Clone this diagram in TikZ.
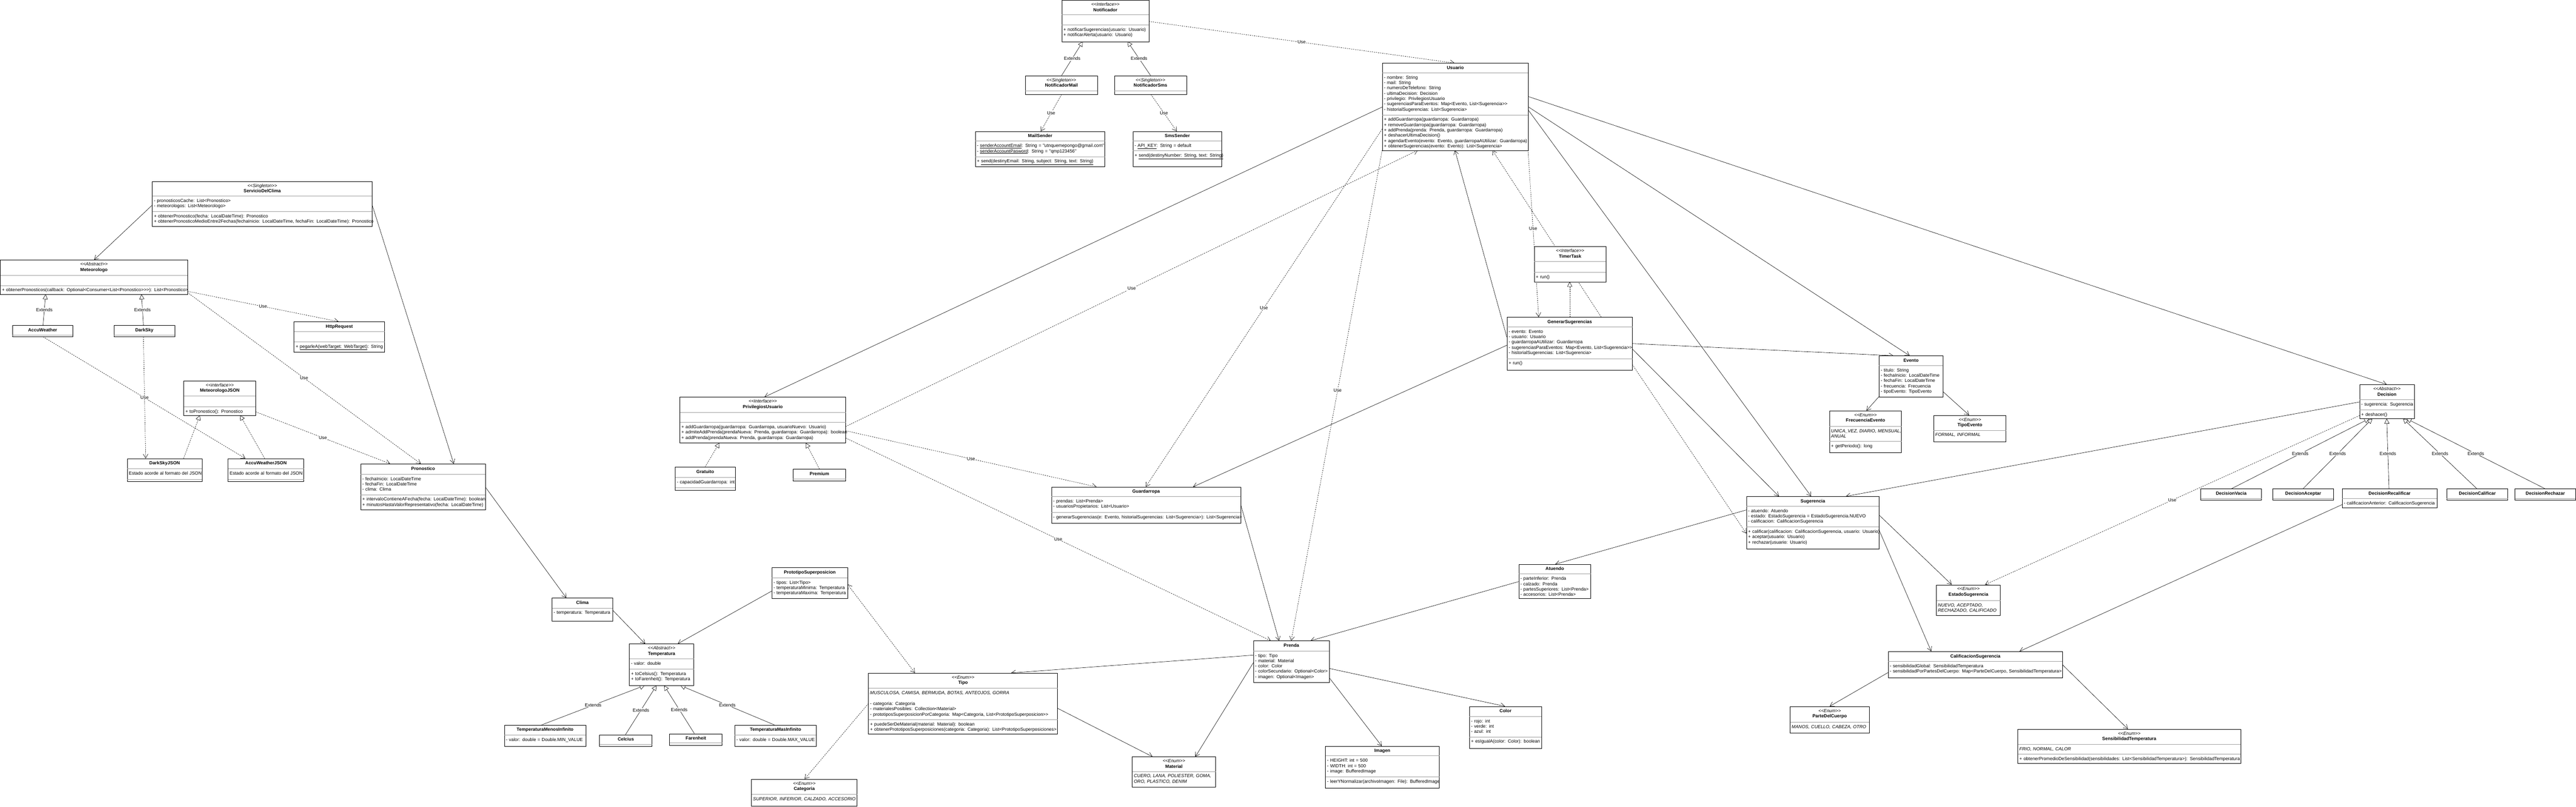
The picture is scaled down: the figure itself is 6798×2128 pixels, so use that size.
\documentclass[tikz,border=0pt]{standalone}
\usepackage{fontspec}
\newfontfamily\umlfont{Liberation Sans}
\usetikzlibrary{arrows.meta,fit,backgrounds}
\newcommand{\umlsize}{\fontsize{12}{14}\umlfont}
\newcommand{\ubox}[5]{\node[classbox, fit={(#2,#3) (#4,#5)}] (#1) {};}
\newcommand{\usep}[3]{\draw[sepline] (#1,#3) -- (#2,#3);}
\newcommand{\utitle}[2]{\node[titletext] at ([yshift=-16.5pt]#1.north) {#2};}
\newcommand{\ustereo}[3]{%
	\node[stereotext] at ([yshift=-15.5pt]#1.north) {<{}<#2>{}>};
	\node[titletext] at ([yshift=-30pt]#1.north) {#3};}
\tikzset{
	classbox/.style={draw, fill=white, line width=1.1pt, inner sep=0pt},
	sepline/.style={gray!75, line width=0.7pt},
	titletext/.style={anchor=base, inner sep=0pt, font=\umlsize\bfseries},
	stereotext/.style={anchor=base, inner sep=0pt, font=\umlsize\itshape},
	members/.style={anchor=north west, text width=700pt, align=left, inner xsep=4pt, inner ysep=6.5pt, font=\umlsize, execute at begin node=\strut},
	literals/.style={members, font=\umlsize\itshape},
	assoc/.style={line width=0.8pt, ->},
	usedep/.style={assoc, dash pattern=on 3pt off 2.5pt},
	extends/.style={line width=0.8pt, -{Triangle[open, length=13pt, width=13pt, fill=white]}},
	realizes/.style={extends, dash pattern=on 3pt off 2.5pt},
	lbl/.style={fill=white, inner sep=1pt, font=\umlsize}
}
\begin{document}
\begin{tikzpicture}[x=1pt, y=-1pt, >={Straight Barb[length=11pt, width=13pt]}]
	\useasboundingbox (0,0) rectangle (6798,2128);
	%-- notificaciones
	\ubox{notificador}{2802}{1}{3032}{110}
	\ustereo{notificador}{Interface}{Notificador}
	\usep{2802}{3032}{39} \usep{2802}{3032}{66}
	\node[members] at (2802,66) {+ notificarSugerencias(usuario: Usuario)\\+ notificarAlerta(usuario: Usuario)};
	\ubox{notifMail}{2706}{200}{2896}{250}
	\ustereo{notifMail}{Singleton}{NotificadorMail}
	\usep{2706}{2896}{239}
	\ubox{notifSms}{2941}{200}{3131}{250}
	\ustereo{notifSms}{Singleton}{NotificadorSms}
	\usep{2941}{3131}{239}
	\ubox{mailSender}{2574}{347}{2916}{440}
	\utitle{mailSender}{MailSender}
	\usep{2574}{2916}{372} \usep{2574}{2916}{413}
	\node[members] at (2574,372) {- \underline{senderAccountEmail}: String = "utnquemepongo@gmail.com"\\- \underline{senderAccountPasword}: String = "qmp123456"};
	\node[members] at (2574,413) {+ \underline{send(destinyEmail: String, subject: String, text: String)}};
	\ubox{smsSender}{2990}{347}{3224}{440}
	\utitle{smsSender}{SmsSender}
	\usep{2990}{3224}{372} \usep{2990}{3224}{398}
	\node[members] at (2990,372) {- \underline{API\_KEY}: String = default};
	\node[members] at (2990,398) {+ \underline{send(destinyNumber: String, text: String)}};
	%-- usuario
	\ubox{usuario}{3648}{167}{4033}{397}
	\utitle{usuario}{Usuario}
	\usep{3648}{4033}{192} \usep{3648}{4033}{303}
	\node[members] at (3648,192) {- nombre: String\\- mail: String\\- numeroDeTelefono: String\\- ultimaDecision: Decision\\- privilegio: PrivilegiosUsuario\\- sugerenciasParaEventos: Map<Evento, List<Sugerencia>{}>\\- historialSugerencias: List<Sugerencia>};
	\node[members] at (3648,303) {+ addGuardarropa(guardarropa: Guardarropa)\\+ removeGuardarropa(guardarropa: Guardarropa)\\+ addPrenda(prenda: Prenda, guardarropa: Guardarropa)\\+ deshacerUltimaDecision()\\+ agendarEvento(evento: Evento, guardarropaAUtilizar: Guardarropa)\\+ obtenerSugerencias(evento: Evento): List<Sugerencia>};
	\ubox{privilegios}{1794}{1048}{2232}{1169}
	\ustereo{privilegios}{Interface}{PrivilegiosUsuario}
	\usep{1794}{2232}{1088} \usep{1794}{2232}{1114}
	\node[members] at (1794,1114) {+ addGuardarropa(guardarropa: Guardarropa, usuarioNuevo: Usuario)\\+ admiteAddPrenda(prendaNueva: Prenda, guardarropa: Guardarropa): boolean\\+ addPrenda(prendaNueva: Prenda, guardarropa: Guardarropa)};
	\ubox{gratuito}{1782}{1233}{1940}{1294}
	\utitle{gratuito}{Gratuito}
	\usep{1782}{1940}{1259} \usep{1782}{1940}{1286}
	\node[members] at (1782,1259) {- capacidadGuardarropa: int};
	\ubox{premium}{2093}{1238}{2232}{1269}
	\utitle{premium}{Premium}
	\usep{2093}{2232}{1263}
	\ubox{guardarropa}{2775}{1285}{3274}{1380}
	\utitle{guardarropa}{Guardarropa}
	\usep{2775}{3274}{1310} \usep{2775}{3274}{1352}
	\node[members] at (2775,1310) {- prendas: List<Prenda>\\- usuariosPropietarios: List<Usuario>};
	\node[members] at (2775,1352) {- generarSugerencias(e: Evento, historialSugerencias: List<Sugerencia>): List<Sugerencia>};
	\ubox{timerTask}{4049}{651}{4238}{744}
	\ustereo{timerTask}{Interface}{TimerTask}
	\usep{4049}{4238}{690} \usep{4049}{4238}{718}
	\node[members] at (4049,718) {+ run()};
	\ubox{generar}{3977}{837}{4308}{977}
	\utitle{generar}{GenerarSugerencias}
	\usep{3977}{4308}{862} \usep{3977}{4308}{946}
	\node[members] at (3977,862) {- evento: Evento\\- usuario: Usuario\\- guardarropaAUtilizar: Guardarropa\\- sugerenciasParaEventos: Map<Evento, List<Sugerencia>{}>\\- historialSugerencias: List<Sugerencia>};
	\node[members] at (3977,946) {+ run()};
	%-- eventos y decisiones
	\ubox{evento}{4959}{939}{5127}{1048}
	\utitle{evento}{Evento}
	\usep{4959}{5127}{964}
	\node[members] at (4959,964) {- titulo: String\\- fechaInicio: LocalDateTime\\- fechaFin: LocalDateTime\\- frecuencia: Frecuencia\\- tipoEvento: TipoEvento};
	\ubox{frecuencia}{4828}{1084}{5018}{1194}
	\ustereo{frecuencia}{Enum}{FrecuenciaEvento}
	\usep{4828}{5018}{1125} \usep{4828}{5018}{1164}
	\node[literals] at (4828,1125) {UNICA\_VEZ, DIARIO, MENSUAL,\\ANUAL};
	\node[members] at (4828,1164) {+ getPeriodo(): long};
	\ubox{tipoEvento}{5103}{1096}{5294}{1166}
	\ustereo{tipoEvento}{Enum}{TipoEvento}
	\usep{5103}{5294}{1135}
	\node[literals] at (5103,1135) {FORMAL, INFORMAL};
	\ubox{decision}{6227}{1015}{6371}{1105}
	\ustereo{decision}{Abstract}{Decision}
	\usep{6227}{6371}{1054} \usep{6227}{6371}{1081}
	\node[members] at (6227,1054) {- sugerencia: Sugerencia};
	\node[members] at (6227,1081) {+ deshacer()};
	\ubox{decVacia}{5808}{1290}{5968}{1320}
	\utitle{decVacia}{DecisionVacia}
	\usep{5808}{5968}{1315}
	\ubox{decAceptar}{5998}{1290}{6158}{1320}
	\utitle{decAceptar}{DecisionAceptar}
	\usep{5998}{6158}{1315}
	\ubox{decRecalificar}{6181}{1290}{6431}{1340}
	\utitle{decRecalificar}{DecisionRecalificar}
	\usep{6181}{6431}{1315}
	\node[members] at (6181,1315) {- calificacionAnterior: CalificacionSugerencia};
	\ubox{decCalificar}{6457}{1290}{6618}{1320}
	\utitle{decCalificar}{DecisionCalificar}
	\usep{6457}{6618}{1315}
	\ubox{decRechazar}{6637}{1290}{6797}{1320}
	\utitle{decRechazar}{DecisionRechazar}
	\usep{6637}{6797}{1315}
	%-- sugerencias
	\ubox{sugerencia}{4609}{1310}{4959}{1449}
	\utitle{sugerencia}{Sugerencia}
	\usep{4609}{4959}{1335} \usep{4609}{4959}{1390}
	\node[members] at (4609,1335) {- atuendo: Atuendo\\- estado: EstadoSugerencia = EstadoSugerencia.NUEVO\\- calificacion: CalificacionSugerencia};
	\node[members] at (4609,1390) {+ calificar(calificacion: CalificacionSugerencia, usuario: Usuario)\\+ aceptar(usuario: Usuario)\\+ rechazar(usuario: Usuario)};
	\ubox{atuendo}{4008}{1489}{4198}{1579}
	\utitle{atuendo}{Atuendo}
	\usep{4008}{4198}{1514}
	\node[members] at (4008,1514) {- parteInferior: Prenda\\- calzado: Prenda\\- partesSuperiores: List<Prenda>\\- accesorios: List<Prenda>};
	\ubox{estadoSug}{5110}{1543}{5279}{1624}
	\ustereo{estadoSug}{Enum}{EstadoSugerencia}
	\usep{5110}{5279}{1584}
	\node[literals] at (5110,1584) {NUEVO, ACEPTADO,\\RECHAZADO, CALIFICADO};
	\ubox{calificacion}{4983}{1719}{5443}{1789}
	\utitle{calificacion}{CalificacionSugerencia}
	\usep{4983}{5443}{1745}
	\node[members] at (4983,1745) {- sensibilidadGlobal: SensibilidadTemperatura\\- sensibilidadPorPartesDelCuerpo: Map<ParteDelCuerpo, SensibilidadTemperatura>};
	\ubox{parteCuerpo}{4724}{1864}{4933}{1934}
	\ustereo{parteCuerpo}{Enum}{ParteDelCuerpo}
	\usep{4724}{4933}{1905}
	\node[literals] at (4724,1905) {MANOS, CUELLO, CABEZA, OTRO};
	\ubox{sensibilidad}{5325}{1924}{5913}{2014}
	\ustereo{sensibilidad}{Enum}{SensibilidadTemperatura}
	\usep{5325}{5913}{1964} \usep{5325}{5913}{1990}
	\node[literals] at (5325,1964) {FRIO, NORMAL, CALOR};
	\node[members] at (5325,1990) {+ obtenerPromedioDeSensibilidad(sensibilidades: List<SensibilidadTemperatura>): SensibilidadTemperatura};
	%-- prendas
	\ubox{prenda}{3308}{1691}{3508}{1801}
	\utitle{prenda}{Prenda}
	\usep{3308}{3508}{1717}
	\node[members] at (3308,1717) {- tipo: Tipo\\- material: Material\\- color: Color\\- colorSecundario: Optional<Color>\\- imagen: Optional<Imagen>};
	\ubox{color}{3878}{1864}{4068}{1974}
	\utitle{color}{Color}
	\usep{3878}{4068}{1890} \usep{3878}{4068}{1944}
	\node[members] at (3878,1890) {- rojo: int\\- verde: int\\- azul: int};
	\node[members] at (3878,1944) {+ esIgualA(color: Color): boolean};
	\ubox{imagen}{3498}{1969}{3798}{2079}
	\utitle{imagen}{Imagen}
	\usep{3498}{3798}{1994} \usep{3498}{3798}{2049}
	\node[members] at (3498,1994) {- HEIGHT: int = 500\\- WIDTH: int = 500\\- image: BufferedImage};
	\node[members] at (3498,2049) {- leerYNormalizar(archivoImagen: File): BufferedImage};
	\ubox{tipo}{2292}{1776}{2791}{1936}
	\ustereo{tipo}{Enum}{Tipo}
	\usep{2292}{2791}{1816} \usep{2292}{2791}{1898}
	\node[literals] at (2292,1816) {MUSCULOSA, CAMISA, BERMUDA, BOTAS, ANTEOJOS, GORRA};
	\node[members] at (2292,1844) {- categoria: Categoria\\- materialesPosibles: Collection<Material>\\- prototiposSuperposicionPorCategoria: Map<Categoria, List<PrototipoSuperposicion>{}>};
	\node[members] at (2292,1898) {+ puedeSerDeMaterial(material: Material): boolean\\+ obtenerPrototiposSuperposiciones(categoria: Categoria): List<PrototipoSuperposiciones>};
	\ubox{categoria}{1983}{2056}{2262}{2127}
	\ustereo{categoria}{Enum}{Categoria}
	\usep{1983}{2262}{2095}
	\node[literals] at (1983,2095) {SUPERIOR, INFERIOR, CALZADO, ACCESORIO};
	\ubox{material}{2988}{1997}{3208}{2076}
	\ustereo{material}{Enum}{Material}
	\usep{2988}{3208}{2035}
	\node[literals] at (2988,2035) {CUERO, LANA, POLIESTER, GOMA,\\ORO, PLASTICO, DENIM};
	\ubox{prototipo}{2037}{1498}{2237}{1579}
	\utitle{prototipo}{PrototipoSuperposicion}
	\usep{2037}{2237}{1524}
	\node[members] at (2037,1524) {- tipos: List<Tipo>\\- temperaturaMinima: Temperatura\\- temperaturaMaxima: Temperatura};
	%-- clima
	\ubox{servicioClima}{402}{479}{982}{598}
	\ustereo{servicioClima}{Singleton}{ServicioDelClima}
	\usep{402}{982}{517} \usep{402}{982}{558}
	\node[members] at (402,517) {- pronosticosCache: List<Pronostico>\\- meteorologos: List<Meteorologo>};
	\node[members] at (402,558) {+ obtenerPronostico(fecha: LocalDateTime): Pronostico\\+ obtenerPronosticoMedioEntre2Fechas(fechaInicio: LocalDateTime, fechaFin: LocalDateTime): Pronostico};
	\ubox{meteorologo}{1}{686}{495}{777}
	\ustereo{meteorologo}{Abstract}{Meteorologo}
	\usep{1}{495}{726} \usep{1}{495}{753}
	\node[members] at (1,753) {+ obtenerPronosticos(callback: Optional<Consumer<List<Pronostico>{}>{}>): List<Pronostico>};
	\ubox{accuWeather}{33}{859}{192}{889}
	\utitle{accuWeather}{AccuWeather}
	\usep{33}{192}{884}
	\ubox{darkSky}{301}{859}{461}{889}
	\utitle{darkSky}{DarkSky}
	\usep{301}{461}{884}
	\ubox{httpRequest}{776}{849}{1015}{929}
	\utitle{httpRequest}{HttpRequest}
	\usep{776}{1015}{874} \usep{776}{1015}{902}
	\node[members] at (776,902) {+ \underline{pegarleA(webTarget: WebTarget)}: String};
	\ubox{meteoJSON}{485}{1005}{675}{1096}
	\ustereo{meteoJSON}{interface}{MeteorologoJSON}
	\usep{485}{675}{1045} \usep{485}{675}{1073}
	\node[members] at (485,1073) {+ toPronostico(): Pronostico};
	\ubox{darkSkyJSON}{336}{1210}{533}{1271}
	\utitle{darkSkyJSON}{DarkSkyJSON}
	\usep{336}{533}{1236} \usep{336}{533}{1265}
	\node[members] at (336,1236) {Estado acorde al formato del JSON};
	\ubox{accuJSON}{602}{1210}{802}{1271}
	\utitle{accuJSON}{AccuWeatherJSON}
	\usep{602}{802}{1236} \usep{602}{802}{1265}
	\node[members] at (602,1236) {Estado acorde al formato del JSON};
	\ubox{pronostico}{952}{1224}{1281}{1345}
	\utitle{pronostico}{Pronostico}
	\usep{952}{1281}{1251} \usep{952}{1281}{1305}
	\node[members] at (952,1251) {- fechaInicio: LocalDateTime\\- fechaFin: LocalDateTime\\- clima: Clima};
	\node[members] at (952,1305) {+ intervaloContieneAFecha(fecha: LocalDateTime): boolean\\+ minutosHastaValorRepresentativo(fecha: LocalDateTime)};
	\ubox{clima}{1457}{1578}{1617}{1639}
	\utitle{clima}{Clima}
	\usep{1457}{1617}{1604}
	\node[members] at (1457,1604) {- temperatura: Temperatura};
	\ubox{temperatura}{1661}{1699}{1831}{1809}
	\ustereo{temperatura}{Abstract}{Temperatura}
	\usep{1661}{1831}{1738} \usep{1661}{1831}{1765}
	\node[members] at (1661,1738) {- valor: double};
	\node[members] at (1661,1765) {+ toCelsius(): Temperatura\\+ toFarenheit(): Temperatura};
	\ubox{tempMenos}{1331}{1913}{1546}{1969}
	\utitle{tempMenos}{TemperaturaMenosInfinito}
	\usep{1331}{1546}{1939}
	\node[members] at (1331,1939) {- valor: double = Double.MIN\_VALUE};
	\ubox{celcius}{1582}{1939}{1721}{1969}
	\utitle{celcius}{Celcius}
	\usep{1582}{1721}{1963}
	\ubox{farenheit}{1767}{1936}{1906}{1966}
	\utitle{farenheit}{Farenheit}
	\usep{1767}{1906}{1960}
	\ubox{tempMas}{1939}{1913}{2154}{1969}
	\utitle{tempMas}{TemperaturaMasInfinito}
	\usep{1939}{2154}{1939}
	\node[members] at (1939,1939) {- valor: double = Double.MAX\_VALUE};
	%-- conectores
	\begin{scope}[on background layer]
		\fill[white] (0,0) rectangle (6798,2128);
		\draw[usedep] ([shift={(230,56)}]notificador.north west) -- node[lbl]{Use} ([shift={(191,0)}]usuario.north west);
		\draw[extends] ([shift={(96,0)}]notifMail.north west) -- node[lbl]{Extends} ([shift={(56,109)}]notificador.north west);
		\draw[extends] ([shift={(96,0)}]notifSms.north west) -- node[lbl]{Extends} ([shift={(174,109)}]notificador.north west);
		\draw[usedep] ([shift={(96,50)}]notifMail.north west) -- node[lbl]{Use} ([shift={(173,0)}]mailSender.north west);
		\draw[usedep] ([shift={(97,50)}]notifSms.north west) -- node[lbl]{Use} ([shift={(116,0)}]smsSender.north west);
		%--
		\draw[assoc] ([shift={(0,63)}]servicioClima.north west) -- ([shift={(248,0)}]meteorologo.north west);
		\draw[extends] ([shift={(81,0)}]accuWeather.north west) -- node[lbl]{Extends} ([shift={(120,91)}]meteorologo.north west);
		\draw[extends] ([shift={(78,0)}]darkSky.north west) -- node[lbl]{Extends} ([shift={(373,91)}]meteorologo.north west);
		\draw[usedep] ([shift={(494,83)}]meteorologo.north west) -- node[lbl]{Use} ([shift={(118,0)}]httpRequest.north west);
		\draw[usedep] ([shift={(494,86)}]meteorologo.north west) -- node[lbl]{Use} ([shift={(159,0)}]pronostico.north west);
		\draw[usedep] ([shift={(81,30)}]accuWeather.north west) -- ([shift={(46,0)}]accuJSON.north west);
		\draw[usedep] ([shift={(78,30)}]darkSky.north west) -- node[lbl]{Use} ([shift={(49,0)}]darkSkyJSON.north west);
		\draw[realizes] ([shift={(149,0)}]darkSkyJSON.north west) -- ([shift={(43,91)}]meteoJSON.north west);
		\draw[realizes] ([shift={(97,0)}]accuJSON.north west) -- ([shift={(149,91)}]meteoJSON.north west);
		\draw[usedep] ([shift={(190,82)}]meteoJSON.north west) -- node[lbl]{Use} ([shift={(78,0)}]pronostico.north west);
		\draw[assoc] ([shift={(580,60)}]servicioClima.north west) -- ([shift={(246,0)}]pronostico.north west);
		\draw[assoc] ([shift={(329,61)}]pronostico.north west) -- ([shift={(38,0)}]clima.north west);
		\draw[assoc] ([shift={(160,32)}]clima.north west) -- ([shift={(42,0)}]temperatura.north west);
		\draw[assoc] ([shift={(0,62)}]prototipo.north west) -- ([shift={(128,0)}]temperatura.north west);
		\draw[usedep, <->] ([shift={(200,44)}]prototipo.north west) -- ([shift={(123,0)}]tipo.north west);
		\draw[usedep] ([shift={(0,81)}]tipo.north west) -- ([shift={(141,0)}]categoria.north west);
		\draw[assoc] ([shift={(499,93)}]tipo.north west) -- ([shift={(54,0)}]material.north west);
		\draw[extends] ([shift={(99,0)}]tempMenos.north west) -- node[lbl]{Extends} ([shift={(41,110)}]temperatura.north west);
		\draw[extends] ([shift={(69,0)}]celcius.north west) -- node[lbl]{Extends} ([shift={(72,110)}]temperatura.north west);
		\draw[extends] ([shift={(66,0)}]farenheit.north west) -- node[lbl]{Extends} ([shift={(92,110)}]temperatura.north west);
		\draw[extends] ([shift={(105,0)}]tempMas.north west) -- node[lbl]{Extends} ([shift={(135,110)}]temperatura.north west);
		%--
		\draw[assoc] ([shift={(0,116)}]usuario.north west) -- ([shift={(224,0)}]privilegios.north west);
		\draw[usedep] ([shift={(438,78)}]privilegios.north west) -- node[lbl]{Use} ([shift={(94,230)}]usuario.north west);
		\draw[usedep] ([shift={(438,89)}]privilegios.north west) -- node[lbl]{Use} ([shift={(119,0)}]guardarropa.north west);
		\draw[usedep] ([shift={(438,108)}]privilegios.north west) -- node[lbl]{Use} ([shift={(46,0)}]prenda.north west);
		\draw[realizes] ([shift={(79,0)}]gratuito.north west) -- ([shift={(105,121)}]privilegios.north west);
		\draw[realizes] ([shift={(70,0)}]premium.north west) -- ([shift={(333,121)}]privilegios.north west);
		\draw[usedep] ([shift={(0,174)}]usuario.north west) -- node[lbl]{Use} ([shift={(249,0)}]guardarropa.north west);
		\draw[usedep] ([shift={(0,230)}]usuario.north west) -- node[lbl, pos=0.49]{Use} ([shift={(100,0)}]prenda.north west);
		\draw[assoc] ([shift={(0,53)}]generar.north west) -- ([shift={(192,230)}]usuario.north west);
		\draw[usedep] ([shift={(385,230)}]usuario.north west) -- node[lbl, pos=0.47]{Use} ([shift={(84,0)}]generar.north west);
		\draw[usedep] ([shift={(249,0)}]generar.north west) -- ([shift={(291,230)}]usuario.north west);
		\draw[realizes] ([shift={(166,0)}]generar.north west) -- ([shift={(94,93)}]timerTask.north west);
		\draw[assoc] ([shift={(1,74)}]generar.north west) -- ([shift={(374,0)}]guardarropa.north west);
		\draw[assoc] ([shift={(499,44)}]guardarropa.north west) -- ([shift={(68,0)}]prenda.north west);
		\draw[assoc] ([shift={(331,70)}]generar.north west) -- ([shift={(38,0)}]evento.north west);
		\draw[assoc] ([shift={(331,84)}]generar.north west) -- ([shift={(86,0)}]sugerencia.north west);
		\draw[usedep] ([shift={(331,125)}]generar.north west) -- ([shift={(0,98)}]sugerencia.north west);
		\draw[assoc] ([shift={(385,88)}]usuario.north west) -- ([shift={(72,0)}]decision.north west);
		\draw[assoc] ([shift={(385,115)}]usuario.north west) -- ([shift={(81,0)}]evento.north west);
		\draw[assoc] ([shift={(385,123)}]usuario.north west) -- ([shift={(171,0)}]sugerencia.north west);
		\draw[assoc] ([shift={(0,108)}]evento.north west) -- ([shift={(98,0)}]frecuencia.north west);
		\draw[assoc] ([shift={(168,94)}]evento.north west) -- ([shift={(94,0)}]tipoEvento.north west);
		%--
		\draw[extends] ([shift={(81,0)}]decVacia.north west) -- node[lbl]{Extends} ([shift={(26,90)}]decision.north west);
		\draw[extends] ([shift={(80,0)}]decAceptar.north west) -- node[lbl]{Extends} ([shift={(34,90)}]decision.north west);
		\draw[extends] ([shift={(124,0)}]decRecalificar.north west) -- node[lbl]{Extends} ([shift={(72,90)}]decision.north west);
		\draw[extends] ([shift={(80,0)}]decCalificar.north west) -- node[lbl]{Extends} ([shift={(115,90)}]decision.north west);
		\draw[extends] ([shift={(80,0)}]decRechazar.north west) -- node[lbl]{Extends} ([shift={(124,90)}]decision.north west);
		\draw[assoc] ([shift={(0,46)}]decision.north west) -- ([shift={(263,0)}]sugerencia.north west);
		\draw[usedep] ([shift={(0,82)}]decision.north west) -- node[lbl]{Use} ([shift={(129,0)}]estadoSug.north west);
		\draw[assoc] ([shift={(0,42)}]decRecalificar.north west) -- ([shift={(347,0)}]calificacion.north west);
		\draw[assoc] ([shift={(0,36)}]sugerencia.north west) -- ([shift={(97,0)}]atuendo.north west);
		\draw[assoc] ([shift={(0,46)}]atuendo.north west) -- ([shift={(151,0)}]prenda.north west);
		\draw[assoc] ([shift={(350,49)}]sugerencia.north west) -- ([shift={(41,0)}]estadoSug.north west);
		\draw[assoc] ([shift={(350,88)}]sugerencia.north west) -- ([shift={(114,0)}]calificacion.north west);
		\draw[assoc] ([shift={(0,56)}]calificacion.north west) -- ([shift={(105,0)}]parteCuerpo.north west);
		\draw[assoc] ([shift={(460,35)}]calificacion.north west) -- ([shift={(291,0)}]sensibilidad.north west);
		%--
		\draw[assoc] ([shift={(200,73)}]prenda.north west) -- ([shift={(94,0)}]color.north west);
		\draw[assoc] ([shift={(200,97)}]prenda.north west) -- ([shift={(149,0)}]imagen.north west);
		\draw[assoc] ([shift={(0,38)}]prenda.north west) -- ([shift={(377,0)}]tipo.north west);
		\draw[assoc] ([shift={(0,58)}]prenda.north west) -- ([shift={(167,0)}]material.north west);
	\end{scope}
\end{tikzpicture}
\end{document}
